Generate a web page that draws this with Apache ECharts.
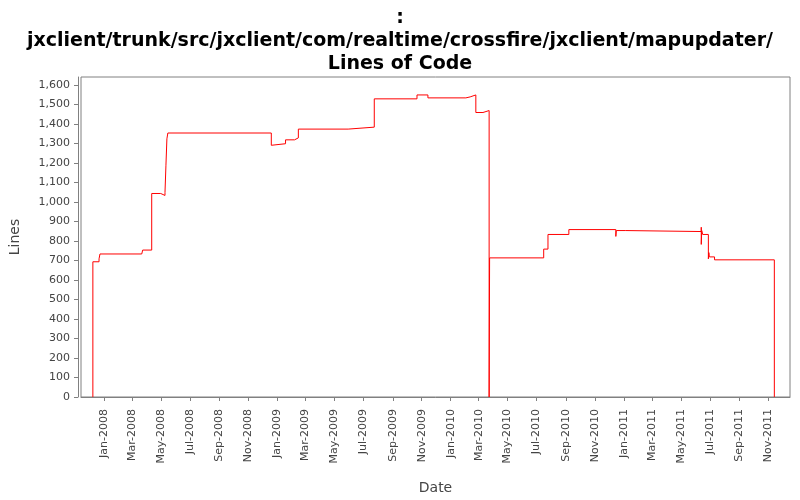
<!DOCTYPE html>
<html><head><meta charset="utf-8">
<script src="https://cdn.jsdelivr.net/npm/echarts@6/dist/echarts.min.js"></script>
<style>html,body{margin:0;padding:0;background:#fff}#c{width:800px;height:500px}</style>
</head><body><div id="c"></div>
<script>
const dates = ["2007-12-09","2007-12-09","2007-12-22","2007-12-24","2008-03-21","2008-03-23","2008-04-11","2008-04-30","2008-05-09","2008-05-11","2008-05-13","2008-05-15","2008-12-19","2008-12-21","2009-01-18","2009-02-06","2009-02-14","2009-05-30","2009-07-24","2009-10-22","2009-11-14","2010-02-02","2010-02-11","2010-02-13","2010-02-23","2010-03-10","2010-03-23","2010-03-24","2010-07-16","2010-07-25","2010-09-07","2010-12-15","2010-12-16","2011-01-05","2011-06-13","2011-06-13","2011-06-14","2011-06-16","2011-06-28","2011-06-29","2011-06-30","2011-07-11","2011-11-14"];
const lines = [0,693,708,733,740,753,1043,1033,1048,1188,1323,1353,1290,1298,1318,1328,1373,1383,1528,1548,1533,1538,1543,1548,1458,1468,0,713,758,833,858,823,853,848,870,782,853,833,708,740,718,703,0];
const tickLabels = ["2008-01-01","2008-03-01","2008-05-01","2008-07-01","2008-09-01","2008-11-01","2009-01-01","2009-03-01","2009-05-01","2009-07-01","2009-09-01","2009-11-01","2010-01-01","2010-03-01","2010-05-01","2010-07-01","2010-09-01","2010-11-01","2011-01-01","2011-03-01","2011-05-01","2011-07-01","2011-09-01","2011-11-01"];
const months = ["Jan","Feb","Mar","Apr","May","Jun","Jul","Aug","Sep","Oct","Nov","Dec"];
const ts = s => Date.UTC(+s.slice(0,4), +s.slice(5,7)-1, +s.slice(8,10));
const data = dates.map((d,i)=>[ts(d), lines[i]]);
const chart = echarts.init(document.getElementById('c'));
const axisCol = '#808080', txt = '#444';
const tickVals = tickLabels.map(ts);
chart.setOption({
  animation:false,
  title:{text:':\njxclient/trunk/src/jxclient/com/realtime/crossfire/jxclient/mapupdater/\nLines of Code',
    left:'center', top:2, textStyle:{fontFamily:'DejaVu Sans', fontSize:19, fontWeight:'bold', color:'#000', lineHeight:23}},
  grid:{left:79, right:10, top:77, bottom:95, show:true, borderColor:axisCol, borderWidth:1, backgroundColor:'#fff'},
  xAxis:{type:'value', min:ts("2007-11-14"), max:ts("2011-12-17"), name:'Date', nameLocation:'middle', nameGap:80,
    nameTextStyle:{fontFamily:'DejaVu Sans', fontSize:14, color:txt},
    offset:4, axisLine:{lineStyle:{color:axisCol}},
    axisTick:{show:true, length:4, lineStyle:{color:axisCol}, customValues:tickVals},
    axisLabel:{rotate:90, fontFamily:'DejaVu Sans', fontSize:11, color:txt, customValues:tickVals,
      formatter:v=>{const d=new Date(v);return months[d.getUTCMonth()]+'-'+d.getUTCFullYear();}},
    splitLine:{show:false}},
  yAxis:{type:'value', min:0, max:1640, interval:100, name:'Lines', nameLocation:'middle', nameGap:56,
    nameTextStyle:{fontFamily:'DejaVu Sans', fontSize:14, color:txt},
    offset:3, axisLine:{show:true, lineStyle:{color:axisCol}},
    axisTick:{show:true, length:4, lineStyle:{color:axisCol}},
    axisLabel:{fontFamily:'DejaVu Sans', fontSize:11, color:txt, showMaxLabel:false,
      formatter:v=>v.toLocaleString('en-US')},
    splitLine:{show:false}},
  series:[{type:'line', step:'end', data:data, symbol:'none', lineStyle:{color:'#ff0000', width:1}}]
});
</script></body></html>
